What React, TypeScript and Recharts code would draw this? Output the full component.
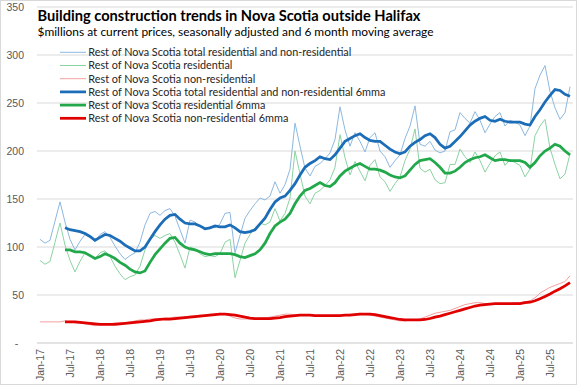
import {CartesianGrid, Line, LineChart, XAxis, YAxis} from "recharts";

const monthNames = ["Jan", "Feb", "Mar", "Apr", "May", "Jun", "Jul", "Aug", "Sep", "Oct", "Nov", "Dec"];
const years = ["17", "18", "19", "20", "21", "22", "23", "24", "25"];
// Jan-17 .. Nov-25
const months = years.flatMap(y => monthNames.map(m => `${m}-${y}`)).slice(0, 107);

const totalRaw = [
    108, 104, 107, 127, 147, 126, 108, 97, 106, 113,
    110, 106, 113, 116, 110, 101, 93, 87, 91, 94,
    105, 123, 135, 137, 133, 138, 140, 132, 118, 104,
    128, 126, 121, 119, 121, 120, 124, 135, 136, 94,
    112, 130, 138, 145, 151, 149, 153, 168, 156, 165,
    181, 229, 205, 182, 174, 184, 187, 192, 198, 212,
    246, 222, 205, 219, 210, 199, 214, 219, 200, 194,
    183, 190, 196, 213, 226, 247, 207, 205, 210, 201,
    198, 200, 220, 222, 240, 234, 229, 241, 232, 219,
    228, 236, 240, 226, 232, 230, 227, 216, 226, 265,
    279, 289, 262, 245, 233, 240, 267];

const residentialRaw = [
    86, 82, 85, 105, 125, 102, 86, 74, 85, 94,
    92, 88, 94, 96, 90, 80, 72, 66, 69, 71,
    80, 97, 109, 112, 109, 112, 114, 105, 92, 78,
    100, 98, 93, 90, 91, 90, 93, 105, 108, 68,
    86, 104, 113, 120, 125, 123, 126, 140, 127, 135,
    151, 200, 176, 153, 145, 156, 159, 164, 170, 183,
    217, 193, 175, 189, 179, 169, 185, 191, 173, 168,
    158, 166, 173, 190, 202, 223, 182, 178, 181, 170,
    166, 167, 186, 186, 202, 194, 188, 199, 190, 178,
    187, 195, 199, 185, 191, 188, 185, 173, 181, 216,
    226, 233, 203, 186, 171, 176, 197];

const nonResidentialRaw = [
    22, 22, 22, 22, 22, 23, 22, 21, 21, 20,
    19, 18, 19, 20, 20, 21, 21, 21, 22, 23,
    24, 24, 25, 25, 25, 26, 26, 27, 27, 27,
    28, 28, 29, 29, 30, 30, 31, 30, 28, 26,
    25, 25, 25, 25, 26, 26, 27, 28, 29, 30,
    30, 29, 29, 29, 29, 28, 28, 28, 28, 29,
    29, 29, 30, 30, 31, 30, 29, 28, 27, 26,
    25, 24, 23, 23, 24, 24, 25, 27, 29, 31,
    32, 33, 34, 36, 38, 40, 41, 42, 42, 41,
    41, 41, 41, 41, 41, 42, 42, 43, 44, 47,
    52, 55, 58, 60, 62, 64, 70];

const totalMA = [
    null, null, null, null, null, 120, 118, 117, 116, 114,
    111, 107, 110, 113, 112, 109, 106, 102, 99, 96,
    96, 100, 108, 116, 123, 129, 133, 134, 129, 125,
    124, 124, 122, 119, 120, 122, 121, 121, 123, 120,
    116, 115, 116, 118, 124, 130, 139, 147, 151, 153,
    159, 166, 175, 183, 187, 190, 194, 192, 191, 196,
    203, 210, 213, 216, 218, 214, 211, 210, 210, 206,
    202, 199, 197, 199, 205, 209, 212, 216, 218, 214,
    207, 203, 205, 210, 215, 221, 227, 231, 234, 236,
    232, 231, 233, 231, 230, 230, 230, 228, 227, 236,
    243, 251, 258, 264, 263, 259, 257];

const residentialMA = [
    null, null, null, null, null, 97, 97, 95, 95, 94,
    91, 88, 90, 93, 91, 88, 84, 81, 77, 74,
    73, 75, 84, 92, 98, 104, 109, 110, 104, 100,
    98, 97, 95, 93, 92, 93, 93, 93, 93, 92,
    90, 89, 91, 93, 97, 104, 114, 122, 126, 129,
    135, 145, 153, 159, 161, 164, 167, 164, 163, 167,
    174, 179, 182, 185, 187, 184, 181, 181, 180, 178,
    175, 173, 172, 174, 180, 186, 190, 191, 192, 188,
    183, 177, 177, 179, 183, 188, 191, 193, 194, 196,
    193, 190, 191, 191, 190, 190, 190, 188, 183, 188,
    195, 200, 203, 207, 205, 200, 196];

const nonResidentialMA = [
    null, null, null, null, null, 22, 22, 22, 21.5, 21,
    20.5, 20, 19.5, 19.5, 19.5, 19.5, 20, 20.5, 21, 21.5,
    22, 22.5, 23, 24, 24.5, 25, 25, 25.5, 26, 26.5,
    27, 27.5, 28, 28.5, 29, 29.5, 30, 30, 29.5, 29,
    28, 27, 26, 25.5, 25.5, 25.5, 25.5, 26, 26.5, 27.5,
    28, 28.5, 29, 29, 29, 28.5, 28.5, 28.5, 28.5, 28.5,
    28.5, 29, 29, 29.5, 30, 30, 30, 29.5, 28.5, 27.5,
    26.5, 25.5, 24.5, 24, 24, 24, 24, 24.5, 25.5, 27,
    28, 29.5, 31, 32.5, 34, 35.5, 37, 38.5, 39.5, 40,
    40.5, 41, 41, 41, 41, 41, 41, 42, 42.5, 44,
    46, 48.5, 51, 54, 56.5, 59.5, 63];

const yTicks = [0, 50, 100, 150, 200, 250, 300, 350];

const data = months.map((month, i) => ({
    month,
    totalRaw: totalRaw[i],
    residentialRaw: residentialRaw[i],
    nonResidentialRaw: nonResidentialRaw[i],
    totalMA: totalMA[i],
    residentialMA: residentialMA[i],
    nonResidentialMA: nonResidentialMA[i],
}));

const series = [
    {key: "totalRaw", label: "Rest of Nova Scotia total residential and non-residential", color: "#8DB8E0", width: 1, text: 263},
    {key: "residentialRaw", label: "Rest of Nova Scotia residential", color: "#8BD3A2", width: 1, text: 144},
    {key: "nonResidentialRaw", label: "Rest of Nova Scotia non-residential", color: "#F2A0A0", width: 1, text: 167},
    {key: "totalMA", label: "Rest of Nova Scotia total residential and non-residential 6mma", color: "#1C6DB8", width: 2.75, text: 297},
    {key: "residentialMA", label: "Rest of Nova Scotia residential 6mma", color: "#21A84A", width: 2.75, text: 177},
    {key: "nonResidentialMA", label: "Rest of Nova Scotia non-residential 6mma", color: "#E00000", width: 2.75, text: 200},
];

const FONT = "Lato, 'Liberation Sans', Arial, sans-serif";

const MonthTick = ({x, y, payload}: any) => (
    <text transform={`translate(${x},${y}) rotate(-90)`} textAnchor="end" dy="0.35em"
          fontSize={10.5} fill="#595959" fontFamily="'Liberation Sans', Arial, sans-serif">
        {payload.value}
    </text>
);

export default function App() {
    return <div style={{position: "relative", width: 577, height: 385, background: "#fff"}}>
        <style>{`body{margin:0}`}</style>
        <LineChart width={577} height={385} data={data} margin={{top: 7, right: 4, bottom: 0, left: 0}}>
            <CartesianGrid vertical={false} stroke="#d9d9d9"/>
            <XAxis dataKey="month" interval={5} tick={<MonthTick/>} tickLine={false} tickSize={0} tickMargin={6}
                   axisLine={{stroke: "#d9d9d9"}} padding={{left: 3, right: 3}} height={42}/>
            <YAxis domain={[0, 350]} ticks={yTicks} width={37} axisLine={false} tickLine={false} tickSize={0}
                   tickMargin={13}
                   tick={{fontSize: 10.5, fill: "#595959", fontFamily: "'Liberation Sans', Arial, sans-serif"}}
                   tickFormatter={(v: number) => v === 0 ? "-\u00a0\u00a0" : String(v)}/>
            {series.map(s => <Line key={s.key} type="linear" dataKey={s.key} stroke={s.color} strokeWidth={s.width}
                                   dot={false} activeDot={false} isAnimationActive={false}/>)}
        </LineChart>
        <svg width={577} height={385} style={{position: "absolute", left: 0, top: 0, pointerEvents: "none"}}>
            <rect x={0.5} y={0.5} width={576} height={384} fill="none" stroke="#d9d9d9"/>
            <text x={37.5} y={20.5} fontSize={15} fontWeight="bold" fontFamily={FONT} fill="#000"
                  textLength={383} lengthAdjust="spacingAndGlyphs">
                Building construction trends in Nova Scotia outside Halifax
            </text>
            <text x={37.5} y={36} fontSize={12} fontFamily={FONT} fill="#000"
                  textLength={396} lengthAdjust="spacingAndGlyphs">
                $millions at current prices, seasonally adjusted and 6 month moving average
            </text>
            {series.map((s, i) => {
                const cy = 52.3 + i * 13.2;
                return <g key={s.key}>
                    <line x1={60} x2={86} y1={cy} y2={cy} stroke={s.color} strokeWidth={s.width}/>
                    <text x={88.3} y={cy} dy="0.36em" fontSize={11} fontFamily={FONT} fill="#262626"
                          textLength={s.text} lengthAdjust="spacingAndGlyphs">{s.label}</text>
                </g>;
            })}
        </svg>
    </div>;
}
